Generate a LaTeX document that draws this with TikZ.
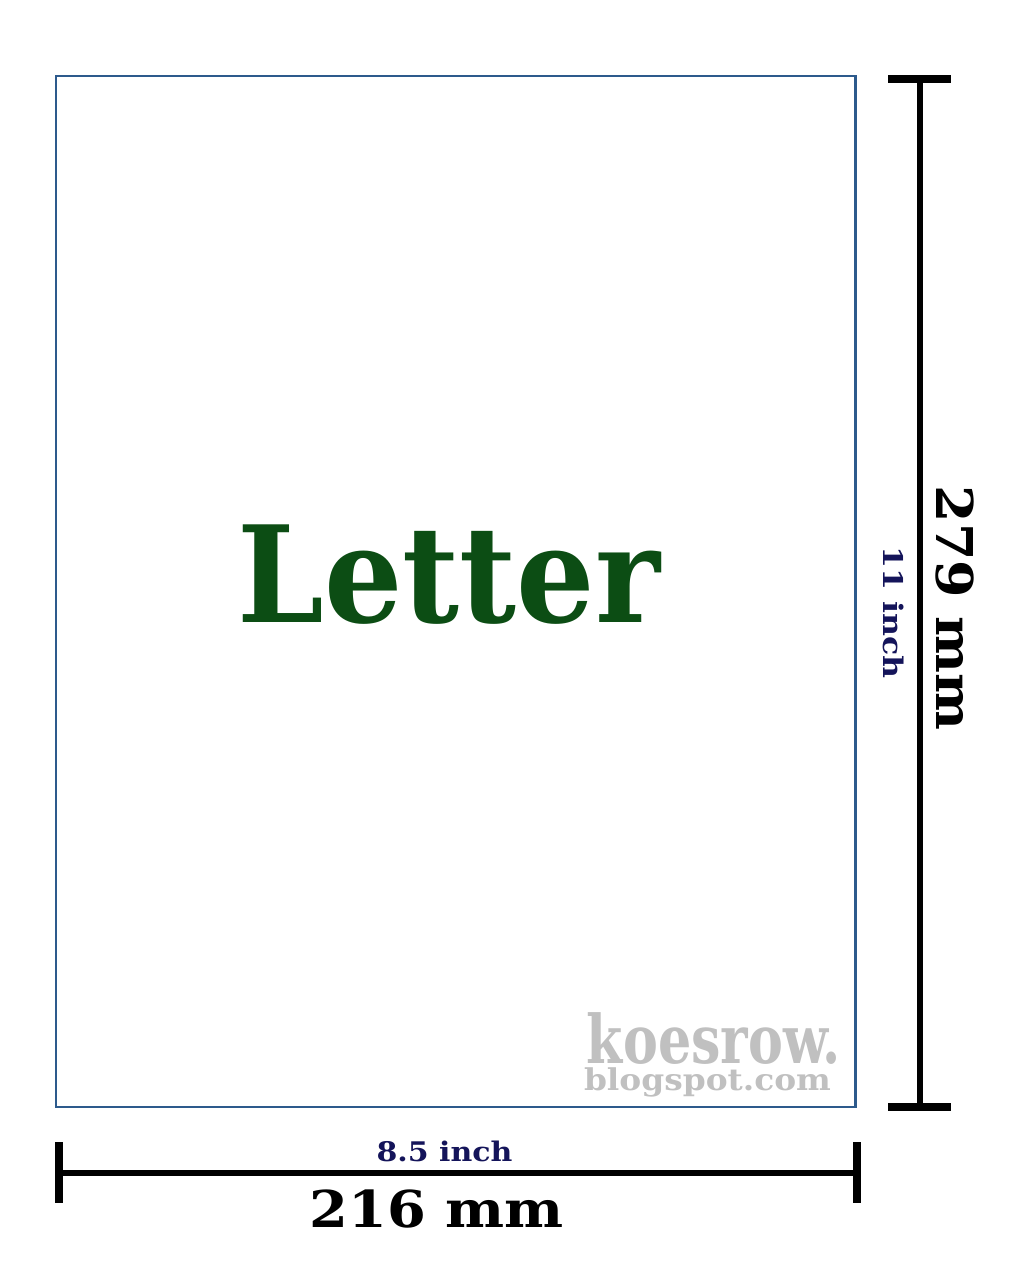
\documentclass[tikz,border=0pt]{standalone}
\usepackage{fontspec}
\setmainfont{DejaVu Serif}
\definecolor{paperblue}{RGB}{45,90,140}
\definecolor{lettergreen}{RGB}{12,77,20}
\definecolor{inchnavy}{RGB}{20,20,90}
\definecolor{wmgray}{RGB}{192,192,192}
\tikzset{
  dimline/.style={line width=5.5pt, black},
  dimcap/.style={line width=8pt, black},
  txt/.style={inner sep=0pt, outer sep=0pt, anchor=base, font=\bfseries},
}
\begin{document}
\begin{tikzpicture}[x=1pt,y=-1pt]
\useasboundingbox[fill=white] (0,0) rectangle (1020,1280);
% paper
\draw[paperblue, line width=2.5pt] (56,76) rectangle (855.5,1107);
% right dimension
\coordinate (rt) at (920,78.5);
\coordinate (rb) at (920,1107);
\coordinate (rtl) at (888,78.5);
\coordinate (rtr) at (951,78.5);
\coordinate (rbl) at (888,1107);
\coordinate (rbr) at (951,1107);
\draw[dimline, line width=6pt] (rt) -- (rb);
\draw[dimcap] (rtl) -- (rtr);
\draw[dimcap] (rbl) -- (rbr);
% bottom dimension
\coordinate (bl) at (59,1173);
\coordinate (br) at (857,1173);
\coordinate (blt) at (59,1142);
\coordinate (blb) at (59,1203);
\coordinate (brt) at (857,1142);
\coordinate (brb) at (857,1203);
\draw[dimline] (bl) -- (br);
\draw[dimcap] (blt) -- (blb);
\draw[dimcap] (brt) -- (brb);
% texts
\node[txt, text=lettergreen] (letter) at (449,622) {\fontsize{134}{134}\selectfont\scalebox{0.92}[1]{Letter}};
\node[txt, rotate=-90] (mm279) at (936,608) {\fontsize{50.75}{50.75}\selectfont\scalebox{1.06}[1]{279 mm}};
\node[txt, rotate=-90, text=inchnavy] (in11) at (883,612.5) {\fontsize{27}{27}\selectfont\scalebox{1.17}[1]{11 inch}};
\node[txt, text=inchnavy] (in85) at (444.5,1161) {\fontsize{27}{27}\selectfont\scalebox{1.11}[1]{8.5 inch}};
\node[txt] (mm216) at (436.5,1227) {\fontsize{50.75}{50.75}\selectfont\scalebox{1.1}[1]{216 mm}};
\node[txt, text=wmgray, text depth=0pt] (wm1) at (714,1063) {\fontsize{67}{67}\selectfont\scalebox{0.78}[1]{koesrow.}};
\node[txt, text=wmgray, text height=22pt] (wm2) at (707.5,1090) {\fontsize{30}{30}\selectfont\scalebox{1.095}[1]{blogspot.com}};
\end{tikzpicture}
\end{document}
